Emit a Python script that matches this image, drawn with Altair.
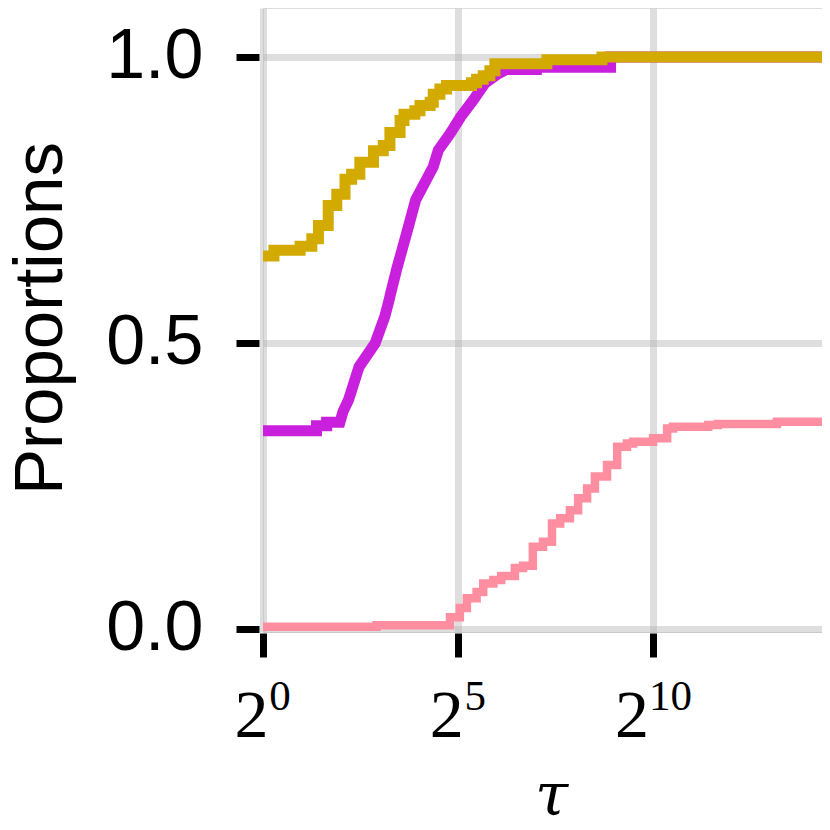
import altair as alt
import pandas as pd

# x values are log2(tau)
gold_x = [0, 0.28, 0.95, 1.25, 1.42, 1.67, 1.89, 2.10, 2.27, 2.48, 2.83, 3.08, 3.25, 3.51,
          3.61, 3.89, 4.02, 4.28, 4.36, 4.53, 4.70, 5.34, 5.47, 5.64, 5.81, 5.94, 7.27, 8.68, 14.6]
gold_y = [0.652, 0.662, 0.669, 0.682, 0.705, 0.740, 0.760, 0.786, 0.795, 0.816, 0.836, 0.845, 0.868, 0.889,
          0.900, 0.906, 0.915, 0.921, 0.935, 0.944, 0.950, 0.955, 0.961, 0.967, 0.976, 0.988, 0.995, 1.0, 1.0]

magenta_x = [0, 1.37, 1.37, 1.63, 1.63, 1.97, 2.05, 2.19, 2.46, 2.87, 3.12, 3.23, 3.27, 3.44, 3.68,
             3.91, 4.36, 4.49, 4.79, 5.06, 5.39, 5.68, 6.03, 6.22, 7.0, 7.0, 8.9, 8.9, 14.6]
magenta_y = [0.346, 0.346, 0.355, 0.355, 0.361, 0.361, 0.38, 0.40, 0.458, 0.499, 0.546, 0.575, 0.587, 0.633, 0.692,
             0.750, 0.808, 0.837, 0.866, 0.895, 0.925, 0.954, 0.971, 0.978, 0.978, 0.982, 0.982, 1.0, 1.0]

pink_x = [0, 2.91, 4.79, 5.04, 5.22, 5.47, 5.64, 5.90, 6.10, 6.45, 6.66, 6.91, 7.17, 7.40, 7.61, 7.86,
          8.07, 8.30, 8.50, 8.81, 9.07, 9.32, 9.48, 9.99, 10.35, 10.50, 11.40, 11.65, 13.16, 14.6]
pink_y = [0.003, 0.006, 0.020, 0.036, 0.053, 0.064, 0.079, 0.085, 0.092, 0.106, 0.110, 0.143, 0.152, 0.184, 0.193, 0.207,
          0.228, 0.245, 0.266, 0.286, 0.318, 0.324, 0.327, 0.333, 0.350, 0.353, 0.356, 0.358, 0.362, 0.362]

x_ticks = [0, 5, 10]
x_exponents = ["0", "5", "10"]
y_ticks = [0.0, 0.5, 1.0]

x_dom = [0, 14.315]
y_dom = [-0.006, 1.0857]

gold = pd.DataFrame({"x": gold_x, "y": gold_y})
magenta = pd.DataFrame({"x": magenta_x, "y": magenta_y})
pink = pd.DataFrame({"x": pink_x, "y": pink_y})
ticks = pd.DataFrame({"x": x_ticks, "e": x_exponents, "base": ["2"] * len(x_ticks),
                      "n": [len(e) for e in x_exponents]})

xscale = alt.Scale(domain=x_dom, nice=False, zero=False)
yscale = alt.Scale(domain=y_dom, nice=False, zero=False)

x_axis = alt.Axis(values=x_ticks, labels=False, domain=False, tickColor="black", tickWidth=7,
                  tickSize=24, offset=1, grid=True, gridColor="#b0b0b0", gridOpacity=0.42,
                  gridWidth=7, title="τ", titleFont="DejaVu Serif", titleFontStyle="italic",
                  titleFontWeight="normal", titleFontSize=60, titleColor="black",
                  titleX=288, titleY=181, titleAlign="center", titleBaseline="alphabetic")
y_axis = alt.Axis(values=y_ticks, format=".1f", domain=False, tickColor="black", tickWidth=7,
                  tickSize=23, offset=4, grid=True, gridColor="#b0b0b0", gridOpacity=0.42,
                  gridWidth=7, labelFont="Liberation Sans", labelFontSize=70, labelColor="black",
                  labelPadding=33, title="Proportions", titleFont="Liberation Sans",
                  titleFontSize=69, titleFontWeight="normal", titleColor="black", titleAngle=-90,
                  titleX=-198, titleY=310, titleAlign="center", titleBaseline="alphabetic")

base = alt.Chart(pink).mark_line(color="#ff8fa0", strokeWidth=8.5, interpolate="step-after",
                                 clip=True).encode(
    x=alt.X("x:Q", scale=xscale, axis=x_axis),
    y=alt.Y("y:Q", scale=yscale, axis=y_axis),
)
mag = alt.Chart(magenta).mark_line(color="#c820dc", strokeWidth=11, clip=True).encode(
    x=alt.X("x:Q", scale=xscale), y=alt.Y("y:Q", scale=yscale))
gol = alt.Chart(gold).mark_line(color="#d2aa00", strokeWidth=11, interpolate="step-after",
                                clip=True).encode(
    x=alt.X("x:Q", scale=xscale), y=alt.Y("y:Q", scale=yscale))

base_1 = alt.Chart(ticks).transform_filter("datum.n == 1").mark_text(
    font="Liberation Serif", fontSize=68, color="black", align="center", baseline="alphabetic",
    dx=-11.5).encode(x=alt.X("x:Q", scale=xscale), y=alt.value(729), text="base:N")
base_2 = alt.Chart(ticks).transform_filter("datum.n == 2").mark_text(
    font="Liberation Serif", fontSize=68, color="black", align="center", baseline="alphabetic",
    dx=-21.5).encode(x=alt.X("x:Q", scale=xscale), y=alt.value(729), text="base:N")
expo = alt.Chart(ticks).mark_text(
    font="Liberation Serif", fontSize=43, color="black", align="center", baseline="alphabetic",
    dx=17).encode(x=alt.X("x:Q", scale=xscale), y=alt.value(702), text="e:N")

chart = alt.layer(base, mag, gol, base_1, base_2, expo).properties(
    width=559, height=624,
    autosize=alt.AutoSizeParams(type="none"),
    padding={"left": 255, "top": 0, "right": 0, "bottom": 190},
).configure_view(stroke=None).configure(background="white")

chart.save("out.html", embed_options={"renderer": "svg", "actions": False})
